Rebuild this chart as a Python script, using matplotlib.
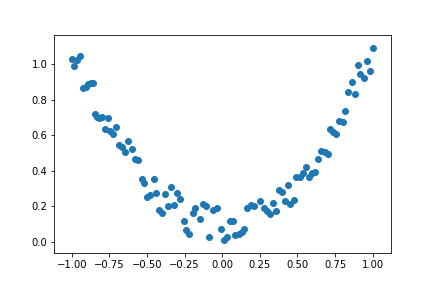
import numpy as np
import matplotlib
matplotlib.use('Agg')
import matplotlib.pyplot as plt

# valores (x, y) - forma de parábola con ruido
x_left = [-1.000, -0.983, -0.963, -0.945, -0.923, -0.905, -0.890, -0.874, -0.860,
          -0.845, -0.830, -0.820, -0.800, -0.783, -0.760, -0.746, -0.724, -0.704,
          -0.685, -0.666, -0.646, -0.626, -0.597, -0.580, -0.558, -0.535, -0.518,
          -0.500, -0.480, -0.456, -0.440, -0.420, -0.400, -0.378, -0.358, -0.340,
          -0.318, -0.300, -0.280, -0.257, -0.240, -0.220, -0.198, -0.180, -0.150,
          -0.130, -0.108, -0.091, -0.060, -0.035, -0.011]
y_left = [1.030, 0.990, 1.020, 1.046, 0.866, 0.873, 0.888, 0.894, 0.894,
          0.717, 0.705, 0.694, 0.705, 0.637, 0.698, 0.624, 0.609, 0.648,
          0.544, 0.534, 0.504, 0.566, 0.525, 0.464, 0.460, 0.352, 0.330,
          0.255, 0.264, 0.352, 0.274, 0.180, 0.164, 0.268, 0.203, 0.310,
          0.208, 0.277, 0.240, 0.119, 0.069, 0.046, 0.165, 0.190, 0.130,
          0.212, 0.205, 0.028, 0.180, 0.193, 0.073]

x_right = [0.009, 0.031, 0.049, 0.070, 0.086, 0.109, 0.131, 0.145, 0.166, 0.190,
           0.212, 0.248, 0.275, 0.297, 0.315, 0.336, 0.358, 0.376, 0.397, 0.417,
           0.436, 0.452, 0.474, 0.492, 0.514, 0.537, 0.557, 0.579, 0.597, 0.619,
           0.634, 0.659, 0.681, 0.701, 0.719, 0.737, 0.758, 0.778, 0.803, 0.818,
           0.838, 0.863, 0.880, 0.900, 0.918, 0.940, 0.962, 0.980, 1.000]
y_right = [0.013, 0.028, 0.119, 0.119, 0.041, 0.046, 0.059, 0.075, 0.190, 0.208,
           0.200, 0.231, 0.190, 0.175, 0.157, 0.218, 0.175, 0.294, 0.283, 0.230,
           0.320, 0.216, 0.236, 0.363, 0.366, 0.389, 0.419, 0.366, 0.385, 0.394,
           0.464, 0.512, 0.506, 0.492, 0.637, 0.618, 0.609, 0.679, 0.674, 0.735,
           0.841, 0.897, 0.832, 0.994, 0.944, 0.920, 1.015, 0.963, 1.089]

x = np.array(x_left + x_right)
y = np.array(y_left + y_right)

fig = plt.figure(figsize=(6, 4), dpi=72)
ax = fig.add_axes([0.1257, 0.1226, 0.7787, 0.7559])
ax.scatter(x, y)
# márgenes algo más anchos, como en la versión antigua de matplotlib
ax.set_xlim(-1.117, 1.12)
ax.set_ylim(-0.06, 1.163)
plt.savefig('out.png', dpi=72)
